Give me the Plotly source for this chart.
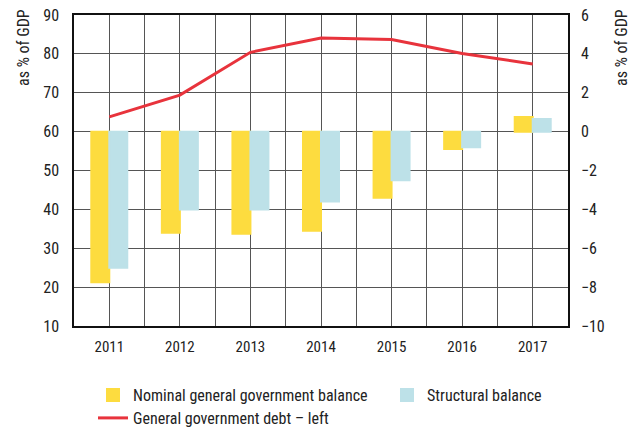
import plotly.graph_objects as go

years = [2011, 2012, 2013, 2014, 2015, 2016, 2017]
nominal_balance = [-7.75, -5.2, -5.25, -5.1, -3.4, -0.9, 0.75]
structural_balance = [-7.0, -4.0, -4.0, -3.6, -2.5, -0.8, 0.65]
debt = [63.8, 69.4, 80.4, 84.1, 83.7, 80.1, 77.4]

FONT = "Liberation Sans Narrow, Arial Narrow, Roboto Condensed, Liberation Sans, sans-serif"
GRID = "#555555"
YELLOW, BLUE, RED = "#FDDC3F", "#BDE1E8", "#E8333C"
W, H = 630, 420  # page body has an 8px margin; figure fills the visible window
ML, MR, MT, MB = 66, 70, 7, 102
PW, PH = W - ML - MR, H - MT - MB

fig = go.Figure()
fig.add_trace(go.Bar(x=years, y=nominal_balance, name="Nominal general government balance",
                     marker=dict(color=YELLOW, line=dict(width=2, color=YELLOW)), yaxis="y2",
                     legend="legend"))
fig.add_trace(go.Bar(x=years, y=structural_balance, name="Structural balance",
                     marker=dict(color=BLUE, line=dict(width=2, color=BLUE)), yaxis="y2",
                     legend="legend2"))
fig.add_trace(go.Scatter(x=years, y=debt, name="General government debt – left", mode="lines",
                         line=dict(color=RED, width=3), yaxis="y", legend="legend3"))

leg_common = dict(orientation="h", xref="container", yref="container", xanchor="left",
                  yanchor="middle", font=dict(family=FONT, size=16, color="#222"),
                  bgcolor="rgba(0,0,0,0)", borderwidth=0)

fig.update_layout(
    width=W, height=H,
    margin=dict(l=ML, r=MR, t=MT, b=MB, autoexpand=False),
    paper_bgcolor="white", plot_bgcolor="white",
    font=dict(family=FONT, size=15, color="#222"),
    barmode="group", bargap=0.49, bargroupgap=0,
    showlegend=True,
    legend=dict(x=85 / W, y=1 - 387 / H, **leg_common),
    legend2=dict(x=379 / W, y=1 - 387 / H, **leg_common),
    legend3=dict(x=85 / W, y=1 - 410 / H, **leg_common),
    xaxis=dict(range=[2010.5, 2017.5], tickmode="array", tickvals=years,
               ticktext=[str(y) for y in years], showgrid=True, gridcolor=GRID, gridwidth=1,
               minor=dict(tickmode="array", tickvals=[y - 0.5 for y in years] + [2017.5],
                          showgrid=True, gridcolor=GRID, gridwidth=1, ticks=""),
               showline=True, mirror=True, linecolor="#111", linewidth=1.5, ticks="",
               zeroline=False, automargin=False, ticklabelstandoff=6,
               tickfont=dict(size=15)),
    yaxis=dict(range=[10, 90], dtick=10, tick0=10, showgrid=True, gridcolor=GRID, gridwidth=1,
               showline=True, linecolor="#111", linewidth=1.5, ticks="", zeroline=False,
               automargin=False, ticklabelstandoff=10, ticklabeloverflow="allow",
               tickfont=dict(size=16)),
    yaxis2=dict(range=[-10, 6], dtick=2, tick0=0, overlaying="y", side="right",
                showgrid=False, showline=True, linecolor="#111", linewidth=1.5,
                ticks="", zeroline=False, automargin=False, ticklabelstandoff=8,
                ticklabeloverflow="allow", tickfont=dict(size=16)),
    annotations=[
        dict(text="as % of GDP", textangle=-90, xref="paper", yref="paper",
             x=(15 - ML) / PW, y=(MT + PH - 40) / PH, xanchor="center", yanchor="middle",
             showarrow=False, font=dict(family=FONT, size=16, color="#222")),
        dict(text="as % of GDP", textangle=-90, xref="paper", yref="paper",
             x=(613 - ML) / PW, y=(MT + PH - 40) / PH, xanchor="center", yanchor="middle",
             showarrow=False, font=dict(family=FONT, size=16, color="#222")),
    ],
)

fig.write_html("out.html")
